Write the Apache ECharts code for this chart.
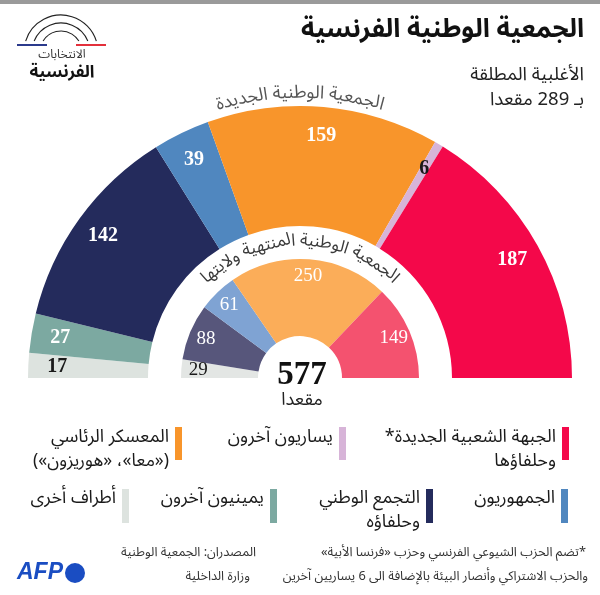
<!DOCTYPE html>
<html dir="rtl" lang="ar">
<head>
<meta charset="utf-8">
<script src="https://cdn.jsdelivr.net/npm/echarts@6/dist/echarts.min.js"></script>
<style>html,body{margin:0;padding:0;background:#fff;}#c{position:absolute;left:0;top:0;width:600px;height:595px;}</style>
</head>
<body>
<div id="c"></div>
<script>
// ---------- data ----------
const outerNames = ['أطراف أخرى', 'يمينيون آخرون', 'التجمع الوطني وحلفاؤه', 'الجمهوريون', 'المعسكر الرئاسي', 'يساريون آخرون', 'الجبهة الشعبية الجديدة وحلفاؤها'];
const outerValues = [17, 27, 142, 39, 159, 6, 187];
const innerNames = ['أطراف أخرى', 'التجمع الوطني وحلفاؤه', 'الجمهوريون', 'المعسكر الرئاسي', 'الجبهة الشعبية الجديدة وحلفاؤها'];
const innerValues = [29, 88, 61, 250, 149];
const totalSeats = 577;
const majoritySeats = 289;
const titleText = 'الجمعية الوطنية الفرنسية';
const subtitleLines = ['الأغلبية المطلقة', 'بـ ' + majoritySeats + ' مقعدا'];
const outerArcTitle = 'الجمعية الوطنية الجديدة';
const innerArcTitle = 'الجمعية الوطنية المنتهية ولايتها';
const seatsWord = 'مقعدا';
const logoLines = ['الانتخابات', 'الفرنسية'];
const legendRow1 = [['الجبهة الشعبية الجديدة*', 'وحلفاؤها'], ['يساريون آخرون'], ['المعسكر الرئاسي', '(«معا»، «هوريزون»)']];
const legendRow2 = [['الجمهوريون'], ['التجمع الوطني', 'وحلفاؤه'], ['يمينيون آخرون'], ['أطراف أخرى']];
const footnoteLines = ['*تضم الحزب الشيوعي الفرنسي وحزب «فرنسا الأبية»', 'والحزب الاشتراكي وأنصار البيئة بالإضافة الى 6 يساريين آخرين'];
const sourceLines = ['المصدران: الجمعية الوطنية', 'وزارة الداخلية'];

// ---------- styles ----------
const outerColors = ['#DDE3DF', '#7CA9A1', '#242B5C', '#5087BF', '#F8952B', '#D7B4D8', '#F4084A'];
const innerColors = ['#E3E6E4', '#57567B', '#7FA3D3', '#FBAD59', '#F4526F'];
const outerLabelColors = ['#1a1a1a', '#fff', '#fff', '#fff', '#fff', '#1a1a1a', '#fff'];
const innerLabelColors = ['#1a1a1a', '#fff', '#fff', '#fff', '#fff'];
const row1Colors = ['#F4084A', '#D7B4D8', '#F8952B'];
const row2Colors = ['#5087BF', '#242B5C', '#7CA9A1', '#DDE3DF'];
const AR = "'Noto Sans Arabic','Noto Naskh Arabic','DejaVu Sans',sans-serif";
const SERIF = "'Liberation Serif','DejaVu Serif',serif";
const CX = 300, CY = 378;

const mctx = document.createElement('canvas').getContext('2d');
mctx.direction = 'rtl';
function tw(t, size, weight) { mctx.font = (weight || 'normal') + ' ' + size + 'px ' + AR; return mctx.measureText(t).width; }

// split Arabic text into pieces at letters that never join to the following letter
const nonJoin = 'اأإآدذرزوؤةء';
function arcText(text, R, size, color) {
  const pieces = [];
  let cur = '';
  for (const ch of text) {
    if (ch === ' ') { if (cur) pieces.push(cur); pieces.push(' '); cur = ''; continue; }
    cur += ch;
    if (nonJoin.indexOf(ch) >= 0) { pieces.push(cur); cur = ''; }
  }
  if (cur) pieces.push(cur);
  const ws = pieces.map(p => tw(p, size));
  const L = ws.reduce((a, b) => a + b, 0);
  let d = 0; const out = [];
  pieces.forEach((p, i) => {
    const mid = d + ws[i] / 2;
    d += ws[i];
    if (p === ' ') return;
    const phi = (L / 2 - mid) / R;
    out.push({ type: 'text', x: CX + R * Math.sin(phi), y: CY - R * Math.cos(phi), rotation: -phi, silent: true,
      style: { text: p, fontSize: size, fontFamily: AR, fill: color, align: 'center', verticalAlign: 'middle' } });
  });
  return out;
}

function txt(x, y, text, size, opts) {
  opts = opts || {};
  return { type: 'text', x: x, y: y, silent: true, style: { text: text, fontSize: size, fontFamily: opts.family || AR,
    fontWeight: opts.weight || 'normal', fontStyle: opts.style || 'normal', fill: opts.color || '#1a1a1a', align: opts.align || 'right', verticalAlign: 'middle' } };
}

const graphics = [];
// top bar
graphics.push({ type: 'rect', shape: { x: 0, y: 0, width: 600, height: 4 }, style: { fill: '#9a9a9a' }, silent: true });
// logo
[[37, 0.30], [29, 0.39], [21, 0.55]].forEach(a => {
  graphics.push({ type: 'arc', shape: { cx: 61, cy: 52, r: a[0], startAngle: Math.PI + a[1], endAngle: 2 * Math.PI - a[1], clockwise: true },
    style: { stroke: '#222', fill: null, lineWidth: 1.1 }, silent: true });
});
graphics.push({ type: 'line', shape: { x1: 17, y1: 45, x2: 47, y2: 45 }, style: { stroke: '#2B3A8C', lineWidth: 2 }, silent: true });
graphics.push({ type: 'line', shape: { x1: 76, y1: 45, x2: 106, y2: 45 }, style: { stroke: '#E3303B', lineWidth: 2 }, silent: true });
graphics.push(txt(62, 56, logoLines[0], 12, { align: 'center', color: '#333' }));
graphics.push(txt(62, 74, logoLines[1], 17, { align: 'center', weight: 'bold', color: '#111' }));
// title & subtitle
graphics.push(txt(584, 33, titleText, 26, { weight: 'bold', color: '#111' }));
graphics.push(txt(584, 77, subtitleLines[0], 18.5, { color: '#222' }));
graphics.push(txt(584, 102, subtitleLines[1], 18.5, { color: '#222' }));
// arc titles
arcText(outerArcTitle, 283, 18, '#555').forEach(g => graphics.push(g));
arcText(innerArcTitle, 135, 17, '#3a3a3a').forEach(g => graphics.push(g));
// center
graphics.push(txt(302, 375, String(totalSeats), 33, { family: SERIF, weight: 'bold', align: 'center', color: '#111' }));
graphics.push(txt(302, 402, seatsWord, 18, { align: 'center', color: '#222' }));
// legend
const row1X = [562, 339, 175];
legendRow1.forEach((lines, i) => {
  graphics.push({ type: 'rect', shape: { x: row1X[i], y: 427, width: 7, height: 33 }, style: { fill: row1Colors[i] }, silent: true });
  graphics.push(txt(row1X[i] - 6, 439, lines[0], 18));
  if (lines[1]) graphics.push(txt(row1X[i] - 6, 463, lines[1], i === 2 ? 17.5 : 18));
});
const row2X = [561, 426, 270, 122];
legendRow2.forEach((lines, i) => {
  graphics.push({ type: 'rect', shape: { x: row2X[i], y: 489, width: 7, height: 34 }, style: { fill: row2Colors[i] }, silent: true });
  graphics.push(txt(row2X[i] - 6, 500, lines[0], 18));
  if (lines[1]) graphics.push(txt(row2X[i] - 6, 524, lines[1], 18));
});
// footnotes
graphics.push(txt(586, 554, footnoteLines[0], 12.8, { color: '#333' }));
graphics.push(txt(588, 578, footnoteLines[1], 12.8, { color: '#333' }));
graphics.push(txt(256, 554, sourceLines[0], 12.8, { color: '#333' }));
graphics.push(txt(250, 578, sourceLines[1], 12.8, { color: '#333' }));
// AFP logo
graphics.push(txt(17, 573, 'AFP', 23, { family: "'Liberation Sans',Arial,sans-serif", weight: 'bold', style: 'italic', align: 'left', color: '#1A4DC2' }));
graphics.push({ type: 'circle', shape: { cx: 75, cy: 573, r: 10 }, style: { fill: '#1A4DC2' }, silent: true });

function pieSeries(values, names, colors, radius) {
  return { type: 'pie', center: [CX, CY], radius: radius, startAngle: 180, endAngle: 0, clockwise: true, silent: true,
    label: { show: false }, labelLine: { show: false }, itemStyle: { borderWidth: 0 },
    data: values.map((v, i) => ({ value: v, name: names[i], itemStyle: { color: colors[i] } })) };
}
function labelSeries(values, names, labelColors, radius, size, weight) {
  return { type: 'pie', center: [CX, CY], radius: radius, startAngle: 180, endAngle: 0, clockwise: true, silent: true, z: 5,
    itemStyle: { color: 'rgba(0,0,0,0)', borderWidth: 0 }, labelLine: { show: false },
    label: { show: true, position: 'inside', formatter: '{c}', fontFamily: SERIF, fontSize: size, fontWeight: weight },
    data: values.map((v, i) => ({ value: v, name: names[i], label: { color: labelColors[i] } })) };
}

const chart = echarts.init(document.getElementById('c'), null, { renderer: 'canvas', width: 600, height: 595 });
chart.setOption({
  animation: false,
  backgroundColor: '#fff',
  series: [
    pieSeries(outerValues, outerNames, outerColors, [152, 272]),
    pieSeries(innerValues, innerNames, innerColors, [42, 119]),
    labelSeries(outerValues, outerNames, outerLabelColors, [208, 272], 20, 'bold'),
    labelSeries(innerValues, innerNames, innerLabelColors, [80, 118], 19, 'normal')
  ],
  graphic: graphics
});
</script>
</body>
</html>
